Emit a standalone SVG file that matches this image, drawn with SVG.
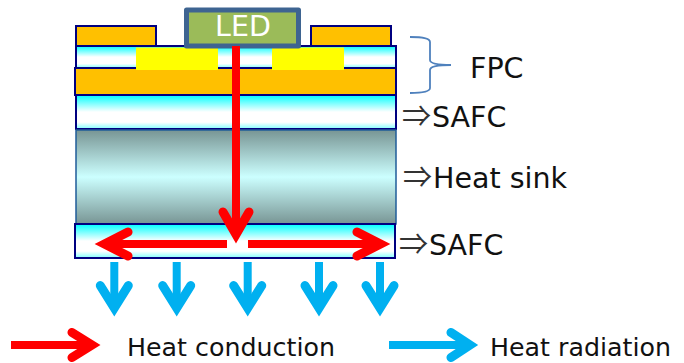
<svg xmlns="http://www.w3.org/2000/svg" width="684" height="363" viewBox="0 0 684 363">
<defs>
<linearGradient id="safc" x1="0" y1="0" x2="0" y2="1"><stop offset="0" stop-color="#00ffff"/><stop offset="0.5" stop-color="#ffffff"/><stop offset="0.8" stop-color="#ffffff"/><stop offset="1" stop-color="#80ffff"/></linearGradient>
<linearGradient id="sink" x1="0" y1="0" x2="0" y2="1"><stop offset="0" stop-color="#789594"/><stop offset="0.5" stop-color="#ccffff"/><stop offset="1" stop-color="#789594"/></linearGradient>
<path id="rad" d="M0 0V46" stroke-linecap="butt"/>
<path id="radh" d="M-14 23.600L0 46L14 23.600"/>
</defs>
<style>
.o{fill:#ffc000;stroke:#000080;stroke-width:2}
.s{fill:url(#safc);stroke:#000080;stroke-width:2}
.y{fill:#ffff00}
.t{font-family:"DejaVu Sans",Verdana,sans-serif;fill:#111}
.l{font-size:28.500px}
.k{font-size:25.300px}
.a{font-family:"Noto Sans CJK JP",sans-serif;font-size:29px;fill:#333}
.r{fill:none;stroke:#ff0000;stroke-width:9;stroke-linecap:round}
.rs{fill:none;stroke:#ff0000;stroke-width:8}
.b{fill:none;stroke:#00b0f0;stroke-width:9;stroke-linecap:round}
.bs{fill:none;stroke:#00b0f0;stroke-width:8}
</style>
<g id="layer-pad-left"><rect class="o" x="76" y="26" width="80" height="20"/></g>
<g id="layer-pad-right"><rect class="o" x="311" y="26" width="80" height="20"/></g>
<g id="layer-fpc-film"><rect class="s" x="76" y="46" width="320" height="22"/></g>
<g id="layer-fpc-copper"><rect class="o" x="75" y="68" width="321" height="27"/></g>
<g id="trace-left"><rect class="y" x="136" y="47.500" width="82" height="22.500"/></g>
<g id="trace-right"><rect class="y" x="272" y="47.500" width="72" height="22.500"/></g>
<g id="safc-top"><rect class="s" x="76" y="95" width="320" height="34"/></g>
<g id="heat-sink"><rect x="76" y="130" width="320" height="94" fill="url(#sink)" stroke="#1f5c99" stroke-width="1.500"/></g>
<g id="safc-bottom"><rect class="s" x="75" y="224" width="320" height="34"/></g>
<g id="led"><rect x="186.500" y="10" width="112" height="36" fill="#9bbb59" stroke="#3e6491" stroke-width="5" stroke-linejoin="round"/><text x="243" y="36" text-anchor="middle" font-family="DejaVu Sans, sans-serif" font-size="28.500" fill="#fff">LED</text></g>
<g id="connectors">
<path class="rs" d="M236 46V236"/>
<path class="r" d="M223 212L236 234.500L249 212"/>
<path class="rs" d="M227 244H106"/>
<path class="r" d="M128 232L104.500 244L128 256"/>
<path class="rs" d="M248 244H380"/>
<path class="r" d="M357 232L380.500 244L357 256"/>
<g class="bs"><use href="#rad" x="114.300" y="262"/><use href="#rad" x="176.700" y="262"/><use href="#rad" x="247.700" y="262"/><use href="#rad" x="319" y="262"/><use href="#rad" x="380" y="262"/></g>
<g class="b"><use href="#radh" x="114.300" y="262"/><use href="#radh" x="176.700" y="262"/><use href="#radh" x="247.700" y="262"/><use href="#radh" x="319" y="262"/><use href="#radh" x="380" y="262"/></g>
<path class="rs" d="M11 345H92"/>
<path class="r" d="M72 332.500L92 345L72 357.500"/>
<path class="bs" d="M389 345H470"/>
<path class="b" d="M451 332.500L470 345L451 357.500"/>
<path d="M410 37Q430 37 430 42V60Q430 65 451 65Q430 65 430 70V88Q430 93 410 93" fill="none" stroke="#4f81bd" stroke-width="1.800"/>
</g>
<g id="labels">
<text class="t l" x="470" y="78">FPC</text>
<text class="a" x="402" y="127">⇒</text><text class="t l" x="432" y="127">SAFC</text>
<text class="a" x="403" y="188">⇒</text><text class="t l" x="433" y="188">Heat sink</text>
<text class="a" x="399" y="255">⇒</text><text class="t l" x="429" y="255">SAFC</text>
<text class="t k" x="127" y="356">Heat conduction</text>
<text class="t k" x="490" y="356">Heat radiation</text>
</g>
</svg>
